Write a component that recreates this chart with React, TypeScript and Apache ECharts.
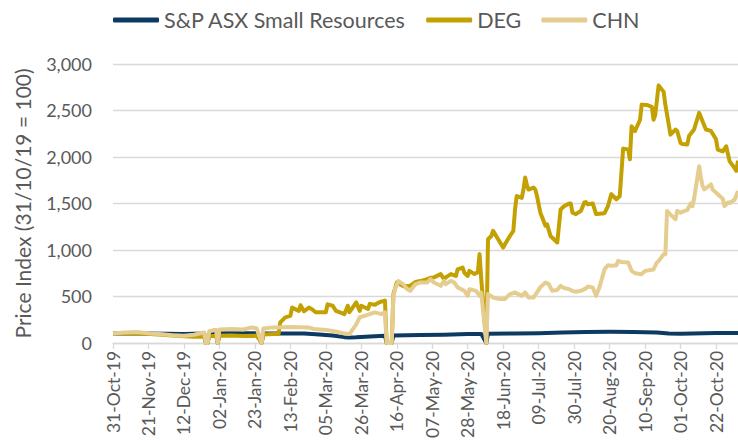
import React, { useEffect, useRef } from "react";
import * as echarts from "echarts";

const BASE_DATE = "2019-10-31";
const X_MAX_DAYS = 370;
const X_TICK_DAYS = 21;
const Y_MAX = 3000;
const Y_INTERVAL = 500;
const Y_NAME = "Price Index (31/10/19 = 100)";
const SERIES_NAMES = ["S&P ASX Small Resources", "DEG", "CHN"];
const COLORS = ["#0D3A61", "#C4A102", "#E5CD90"];
const MONTHS = ["Jan", "Feb", "Mar", "Apr", "May", "Jun", "Jul", "Aug", "Sep", "Oct", "Nov", "Dec"];

const spSmallRes: [string, number][] = [
  ["2019-10-31", 100], ["2019-11-21", 100], ["2019-12-12", 97], ["2019-12-24", 100],
  ["2019-12-25", 0], ["2019-12-26", 0], ["2019-12-27", 101], ["2019-12-31", 102],
  ["2020-01-01", 0], ["2020-01-02", 103], ["2020-01-23", 103], ["2020-01-24", 103],
  ["2020-01-27", 0], ["2020-01-28", 101], ["2020-02-13", 100], ["2020-02-21", 100],
  ["2020-02-28", 92], ["2020-03-09", 80], ["2020-03-16", 62], ["2020-03-19", 58],
  ["2020-03-23", 60], ["2020-03-31", 70], ["2020-04-09", 78], ["2020-04-10", 0],
  ["2020-04-13", 0], ["2020-04-14", 80], ["2020-04-30", 86], ["2020-05-14", 88],
  ["2020-05-28", 95], ["2020-06-05", 97], ["2020-06-08", 0], ["2020-06-09", 98],
  ["2020-06-25", 102], ["2020-07-09", 105], ["2020-07-23", 112], ["2020-08-06", 118],
  ["2020-08-20", 120], ["2020-09-03", 118], ["2020-09-17", 112], ["2020-09-24", 100],
  ["2020-10-01", 98], ["2020-10-08", 102], ["2020-10-22", 106], ["2020-11-04", 106],
];

const deg: [string, number][] = [
  ["2019-10-31", 100], ["2019-11-07", 104], ["2019-11-14", 102], ["2019-11-22", 95],
  ["2019-11-29", 88], ["2019-12-05", 80], ["2019-12-12", 72], ["2019-12-18", 65],
  ["2019-12-24", 70], ["2019-12-25", 0], ["2019-12-26", 0], ["2019-12-27", 72],
  ["2019-12-31", 78], ["2020-01-01", 0], ["2020-01-02", 78], ["2020-01-09", 80],
  ["2020-01-16", 75], ["2020-01-24", 78], ["2020-01-27", 0], ["2020-01-28", 90],
  ["2020-02-03", 95], ["2020-02-06", 95], ["2020-02-07", 220], ["2020-02-10", 275],
  ["2020-02-13", 290], ["2020-02-14", 380], ["2020-02-18", 345], ["2020-02-19", 405],
  ["2020-02-21", 340], ["2020-02-24", 380], ["2020-02-26", 360], ["2020-02-28", 330],
  ["2020-03-05", 330], ["2020-03-06", 415], ["2020-03-09", 400], ["2020-03-11", 345],
  ["2020-03-16", 310], ["2020-03-18", 400], ["2020-03-19", 330], ["2020-03-23", 435],
  ["2020-03-25", 345], ["2020-03-26", 400], ["2020-03-30", 365], ["2020-03-31", 420],
  ["2020-04-03", 410], ["2020-04-06", 440], ["2020-04-09", 455], ["2020-04-10", 0],
  ["2020-04-13", 0], ["2020-04-14", 525], ["2020-04-16", 650], ["2020-04-20", 610],
  ["2020-04-24", 615], ["2020-04-27", 655], ["2020-04-30", 665], ["2020-05-04", 685],
  ["2020-05-06", 700], ["2020-05-08", 705], ["2020-05-12", 740], ["2020-05-14", 685],
  ["2020-05-15", 705], ["2020-05-18", 740], ["2020-05-21", 720], ["2020-05-22", 790],
  ["2020-05-25", 810], ["2020-05-26", 755], ["2020-05-28", 720], ["2020-05-29", 775],
  ["2020-06-01", 740], ["2020-06-03", 760], ["2020-06-04", 955], ["2020-06-05", 690],
  ["2020-06-08", 0], ["2020-06-09", 1115], ["2020-06-11", 1150], ["2020-06-12", 1205],
  ["2020-06-15", 1115], ["2020-06-18", 1025], ["2020-06-19", 1060], ["2020-06-22", 1150],
  ["2020-06-24", 1205], ["2020-06-25", 1435], ["2020-06-26", 1580], ["2020-06-29", 1560],
  ["2020-06-30", 1650], ["2020-07-01", 1780], ["2020-07-02", 1700], ["2020-07-03", 1650],
  ["2020-07-06", 1670], ["2020-07-07", 1650], ["2020-07-08", 1580], ["2020-07-10", 1400],
  ["2020-07-13", 1260], ["2020-07-14", 1275], ["2020-07-16", 1150], ["2020-07-20", 1080],
  ["2020-07-21", 1260], ["2020-07-22", 1435], ["2020-07-24", 1470], ["2020-07-27", 1500],
  ["2020-07-28", 1500], ["2020-07-29", 1400], ["2020-07-31", 1385], ["2020-08-03", 1420],
  ["2020-08-05", 1510], ["2020-08-06", 1515], ["2020-08-07", 1490], ["2020-08-10", 1500],
  ["2020-08-12", 1385], ["2020-08-14", 1390], ["2020-08-17", 1395], ["2020-08-19", 1470],
  ["2020-08-21", 1600], ["2020-08-24", 1545], ["2020-08-26", 1580], ["2020-08-28", 2090],
  ["2020-08-31", 2080], ["2020-09-01", 1975], ["2020-09-02", 2330], ["2020-09-04", 2277],
  ["2020-09-07", 2400], ["2020-09-08", 2563], ["2020-09-11", 2560], ["2020-09-14", 2540],
  ["2020-09-15", 2400], ["2020-09-16", 2450], ["2020-09-18", 2770], ["2020-09-21", 2700],
  ["2020-09-22", 2560], ["2020-09-24", 2350], ["2020-09-25", 2240], ["2020-09-28", 2295],
  ["2020-09-29", 2280], ["2020-10-01", 2150], ["2020-10-02", 2140], ["2020-10-05", 2135],
  ["2020-10-06", 2225], ["2020-10-09", 2295], ["2020-10-12", 2475], ["2020-10-14", 2385],
  ["2020-10-16", 2295], ["2020-10-19", 2280], ["2020-10-22", 2190], ["2020-10-23", 2080],
  ["2020-10-26", 2060], ["2020-10-28", 2115], ["2020-10-30", 1955], ["2020-11-02", 1880],
  ["2020-11-03", 1850], ["2020-11-04", 1960],
];

const chn: [string, number][] = [
  ["2019-10-31", 100], ["2019-11-07", 112], ["2019-11-14", 118], ["2019-11-22", 100],
  ["2019-11-29", 92], ["2019-12-05", 82], ["2019-12-12", 78], ["2019-12-18", 88],
  ["2019-12-24", 112], ["2019-12-25", 0], ["2019-12-26", 0], ["2019-12-27", 125],
  ["2019-12-31", 142], ["2020-01-01", 0], ["2020-01-02", 145], ["2020-01-09", 150],
  ["2020-01-16", 145], ["2020-01-21", 165], ["2020-01-24", 158], ["2020-01-27", 0],
  ["2020-01-28", 155], ["2020-02-03", 167], ["2020-02-13", 170], ["2020-02-24", 165],
  ["2020-02-27", 150], ["2020-03-05", 140], ["2020-03-11", 122], ["2020-03-16", 100],
  ["2020-03-19", 95], ["2020-03-23", 200], ["2020-03-25", 275], ["2020-03-31", 310],
  ["2020-04-03", 328], ["2020-04-07", 310], ["2020-04-09", 330], ["2020-04-10", 0],
  ["2020-04-13", 0], ["2020-04-14", 500], ["2020-04-15", 580], ["2020-04-17", 665],
  ["2020-04-20", 630], ["2020-04-22", 580], ["2020-04-24", 560], ["2020-04-27", 630],
  ["2020-04-30", 650], ["2020-05-04", 650], ["2020-05-06", 686], ["2020-05-08", 650],
  ["2020-05-12", 614], ["2020-05-14", 667], ["2020-05-15", 632], ["2020-05-18", 667],
  ["2020-05-20", 650], ["2020-05-22", 597], ["2020-05-26", 560], ["2020-05-28", 506],
  ["2020-05-29", 578], ["2020-06-02", 560], ["2020-06-04", 506], ["2020-06-05", 540],
  ["2020-06-08", 0], ["2020-06-09", 525], ["2020-06-12", 489], ["2020-06-16", 471],
  ["2020-06-19", 471], ["2020-06-22", 525], ["2020-06-25", 543], ["2020-06-29", 506],
  ["2020-07-01", 543], ["2020-07-03", 489], ["2020-07-06", 489], ["2020-07-08", 543],
  ["2020-07-10", 600], ["2020-07-13", 650], ["2020-07-15", 632], ["2020-07-17", 560],
  ["2020-07-20", 570], ["2020-07-22", 614], ["2020-07-24", 590], ["2020-07-27", 578],
  ["2020-07-29", 560], ["2020-07-31", 550], ["2020-08-03", 560], ["2020-08-06", 586],
  ["2020-08-07", 607], ["2020-08-10", 597], ["2020-08-12", 506], ["2020-08-14", 600],
  ["2020-08-17", 793], ["2020-08-19", 836], ["2020-08-21", 829], ["2020-08-24", 836],
  ["2020-08-25", 882], ["2020-08-27", 870], ["2020-08-31", 865], ["2020-09-02", 775],
  ["2020-09-04", 750], ["2020-09-08", 739], ["2020-09-10", 775], ["2020-09-14", 786],
  ["2020-09-15", 790], ["2020-09-17", 865], ["2020-09-18", 880], ["2020-09-21", 954],
  ["2020-09-22", 954], ["2020-09-23", 1420], ["2020-09-24", 1400], ["2020-09-25", 1380],
  ["2020-09-28", 1330], ["2020-09-29", 1420], ["2020-10-01", 1400], ["2020-10-02", 1410],
  ["2020-10-05", 1430], ["2020-10-07", 1500], ["2020-10-08", 1470], ["2020-10-09", 1550],
  ["2020-10-12", 1900], ["2020-10-13", 1780], ["2020-10-14", 1690], ["2020-10-15", 1650],
  ["2020-10-19", 1705], ["2020-10-20", 1650], ["2020-10-21", 1633], ["2020-10-23", 1600],
  ["2020-10-26", 1550], ["2020-10-27", 1472], ["2020-10-29", 1510], ["2020-10-30", 1505],
  ["2020-11-02", 1540], ["2020-11-04", 1633],
];

const DAY_MS = 86400000;
const baseMs = Date.parse(BASE_DATE + "T00:00:00Z");
const toDays = (s: string) => Math.round((Date.parse(s + "T00:00:00Z") - baseMs) / DAY_MS);
const toPoints = (rows: [string, number][]) => rows.map(([d, v]) => [toDays(d), v]);
const fmtDay = (v: number) => {
  const d = new Date(baseMs + v * DAY_MS);
  const dd = String(d.getUTCDate()).padStart(2, "0");
  return `${dd}-${MONTHS[d.getUTCMonth()]}-${String(d.getUTCFullYear()).slice(2)}`;
};

const FONT = "Lato";
const TEXT_COLOR = "#595959";
const GRID_COLOR = "#D9D9D9";

export default function App() {
  const ref = useRef<HTMLDivElement>(null);
  useEffect(() => {
    if (!ref.current) return;
    const chart = echarts.init(ref.current, undefined, { renderer: "svg" });
    const allData = [spSmallRes, deg, chn];
    chart.setOption({
      animation: false,
      backgroundColor: "#ffffff",
      legend: {
        top: 4,
        left: 108,
        icon: "roundRect",
        itemWidth: 46,
        itemHeight: 5,
        itemGap: 20,
        textStyle: { fontFamily: FONT, fontSize: 21.5, color: TEXT_COLOR },
        data: SERIES_NAMES,
      },
      grid: { left: 113, right: 0, top: 64, bottom: 97, containLabel: false },
      xAxis: {
        type: "value",
        min: 0,
        max: X_MAX_DAYS,
        interval: X_TICK_DAYS,
        splitLine: { show: false },
        axisLine: { show: true, lineStyle: { color: GRID_COLOR, width: 1.3 } },
        axisTick: { show: true, length: 6, lineStyle: { color: GRID_COLOR, width: 1.3 } },
        axisLabel: {
          rotate: 90,
          margin: 8,
          showMaxLabel: false,
          color: TEXT_COLOR,
          fontFamily: FONT,
          fontSize: 17.5,
          formatter: (v: number) => fmtDay(v),
        },
      },
      yAxis: {
        type: "value",
        min: 0,
        max: Y_MAX,
        interval: Y_INTERVAL,
        name: Y_NAME,
        nameLocation: "middle",
        nameGap: 80,
        nameTextStyle: { fontFamily: FONT, fontSize: 21, color: TEXT_COLOR },
        axisLine: { show: false },
        axisTick: { show: false },
        splitLine: { lineStyle: { color: GRID_COLOR, width: 1.3 } },
        axisLabel: {
          margin: 21,
          color: TEXT_COLOR,
          fontFamily: FONT,
          fontSize: 18,
          formatter: (v: number) => v.toLocaleString("en-US"),
        },
      },
      series: SERIES_NAMES.map((name, i) => ({
        name,
        type: "line",
        data: toPoints(allData[i]),
        showSymbol: false,
        symbol: "none",
        color: COLORS[i],
        lineStyle: { width: 4, color: COLORS[i], join: "round" },
        z: 2 + i,
      })),
    });
    return () => chart.dispose();
  }, []);
  return (
    <div
      ref={ref}
      style={{ position: "fixed", left: 0, top: 0, width: 738, height: 441, background: "#fff" }}
    />
  );
}
